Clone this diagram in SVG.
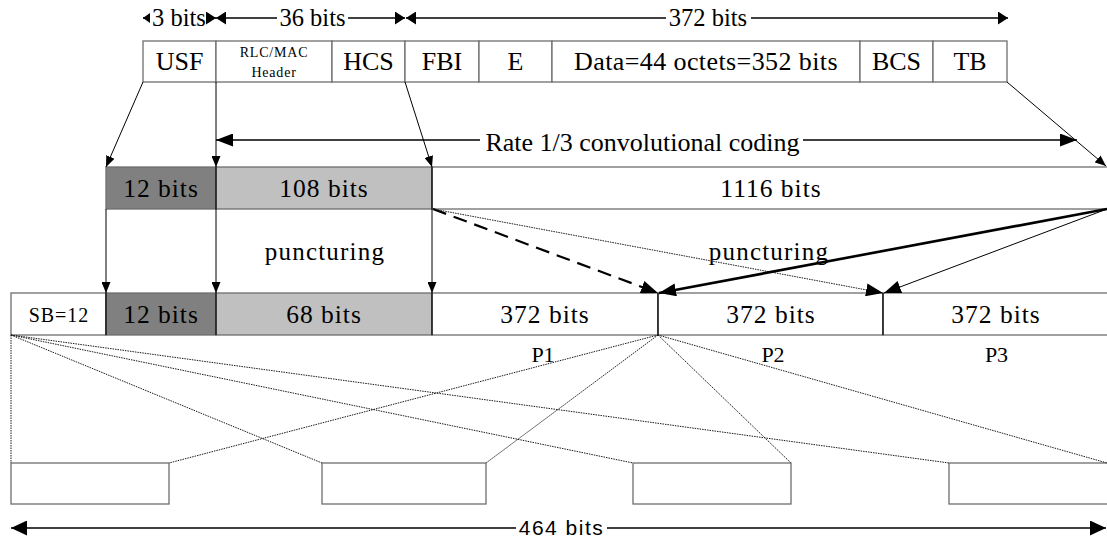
<svg xmlns="http://www.w3.org/2000/svg" width="1107" height="544" viewBox="0 0 1107 544">
  <style>
    .box { fill: #ffffff; stroke: #6e6e6e; stroke-width: 1.3; }
    .dark { fill: #808080; }
    .light { fill: #c0c0c0; }
    .div { stroke: #000000; stroke-width: 1.2; }
    .lbl { font-family: "Liberation Serif", "Times New Roman", serif; fill: #000000; text-anchor: middle; }
    .big { font-size: 26px; }
    .dim { font-size: 24.5px; }
    .cell { font-size: 25.5px; letter-spacing: 1px; }
    .small { font-size: 14px; letter-spacing: 0.8px; }
    .sb { font-size: 20px; letter-spacing: 1px; }
    .punct { font-size: 25px; letter-spacing: 1.2px; }
    .plab { font-size: 22px; }
    .sans { font-family: "Liberation Sans", Arial, sans-serif; font-size: 21px; letter-spacing: 1.5px; fill: #000000; text-anchor: middle; }
    .wire { stroke: #000000; stroke-width: 1; fill: none; }
    .thick { stroke: #000000; stroke-width: 2.6; fill: none; }
    .dash { stroke: #000000; stroke-width: 2.2; fill: none; stroke-dasharray: 14 8; }
    .dots { stroke: #1a1a1a; stroke-width: 1; fill: none; stroke-dasharray: 1.5 1; }
    .bar { stroke: #000000; stroke-width: 1.6; fill: none; }
  </style>
  <defs>
    <marker id="tipS" markerUnits="userSpaceOnUse" markerWidth="11" markerHeight="9" refX="11" refY="4.5" orient="auto">
      <path d="M0,0 L11,4.5 L0,9 z" fill="#000000"/>
    </marker>
    <marker id="tipL" markerUnits="userSpaceOnUse" markerWidth="17" markerHeight="13" refX="17" refY="6.5" orient="auto">
      <path d="M0,0 L17,6.5 L0,13 z" fill="#000000"/>
    </marker>
    <marker id="tipD" markerUnits="userSpaceOnUse" markerWidth="10" markerHeight="13" refX="10" refY="6.5" orient="auto">
      <path d="M0,0 L10,6.5 L0,13 z" fill="#000000"/>
    </marker>
    <marker id="tipT" markerUnits="userSpaceOnUse" markerWidth="7" markerHeight="10" refX="7" refY="5" orient="auto">
      <path d="M0,0 L7,5 L0,10 z" fill="#000000"/>
    </marker>
    <marker id="tipW" markerUnits="userSpaceOnUse" markerWidth="16" markerHeight="15" refX="16" refY="7.5" orient="auto">
      <path d="M0,0 L16,7.5 L0,15 z" fill="#000000"/>
    </marker>
  </defs>

  <rect width="1107" height="544" fill="#ffffff"/>

  <!-- size brackets above the radio block -->
  <g id="dimensions">
    <line class="bar" x1="149" y1="18" x2="143" y2="18" stroke-width="0.5" marker-end="url(#tipT)"/>
    <line class="bar" x1="206" y1="18" x2="216" y2="18" marker-end="url(#tipD)"/>
    <text class="lbl dim" x="179" y="26">3 bits</text>

    <line class="bar" x1="277" y1="18" x2="216" y2="18" marker-end="url(#tipD)"/>
    <line class="bar" x1="348" y1="18" x2="405" y2="18" marker-end="url(#tipD)"/>
    <text class="lbl dim" x="312.5" y="26">36 bits</text>

    <line class="bar" x1="666" y1="18" x2="406" y2="18" marker-end="url(#tipD)"/>
    <line class="bar" x1="751" y1="18" x2="1008" y2="18" marker-end="url(#tipD)"/>
    <text class="lbl dim" x="708" y="26">372 bits</text>
  </g>

  <!-- radio block fields -->
  <g id="field-usf">
    <rect class="box" x="143" y="41" width="73" height="41"/>
    <text class="lbl big" x="179.5" y="70">USF</text>
  </g>
  <g id="field-header">
    <rect class="box" x="216" y="41" width="116" height="41"/>
    <text class="lbl small" x="274" y="57">RLC/MAC</text>
    <text class="lbl small" x="274" y="77">Header</text>
  </g>
  <g id="field-hcs">
    <rect class="box" x="332" y="41" width="73" height="41"/>
    <text class="lbl big" x="368.5" y="70">HCS</text>
  </g>
  <g id="field-fbi">
    <rect class="box" x="405" y="41" width="74" height="41"/>
    <text class="lbl big" x="442" y="70">FBI</text>
  </g>
  <g id="field-e">
    <rect class="box" x="479" y="41" width="73" height="41"/>
    <text class="lbl big" x="515.5" y="70">E</text>
  </g>
  <g id="field-data">
    <rect class="box" x="552" y="41" width="308" height="41"/>
    <text class="lbl big" x="706" y="70" style="letter-spacing:0.4px">Data=44 octets=352 bits</text>
  </g>
  <g id="field-bcs">
    <rect class="box" x="860" y="41" width="73" height="41"/>
    <text class="lbl big" x="896.5" y="70">BCS</text>
  </g>
  <g id="field-tb">
    <rect class="box" x="933" y="41" width="74" height="41"/>
    <text class="lbl big" x="970" y="70">TB</text>
  </g>

  <!-- coded block -->
  <g id="coded-usf">
    <rect class="box dark" x="106" y="167" width="110" height="42"/>
    <text class="lbl cell" x="161" y="197">12 bits</text>
  </g>
  <g id="coded-header">
    <rect class="box light" x="216" y="167" width="216" height="42"/>
    <text class="lbl cell" x="324" y="197">108 bits</text>
  </g>
  <g id="coded-data">
    <rect class="box" x="432" y="167" width="677" height="42"/>
    <text class="lbl cell" x="771" y="197">1116 bits</text>
  </g>

  <!-- punctured block -->
  <g id="burst-sb">
    <rect class="box" x="11" y="293" width="95" height="42"/>
    <text class="lbl sb" x="59" y="322">SB=12</text>
  </g>
  <g id="burst-usf">
    <rect class="box dark" x="106" y="293" width="110" height="42"/>
    <text class="lbl cell" x="161" y="323">12 bits</text>
  </g>
  <g id="burst-header">
    <rect class="box light" x="216" y="293" width="216" height="42"/>
    <text class="lbl cell" x="324" y="323">68 bits</text>
  </g>
  <g id="burst-p1">
    <rect class="box" x="432" y="293" width="226" height="42"/>
    <text class="lbl cell" x="545" y="323">372 bits</text>
    <text class="lbl plab" x="543" y="362">P1</text>
  </g>
  <g id="burst-p2">
    <rect class="box" x="658" y="293" width="225" height="42"/>
    <text class="lbl cell" x="771" y="323">372 bits</text>
    <text class="lbl plab" x="773" y="362">P2</text>
  </g>
  <g id="burst-p3">
    <rect class="box" x="883" y="293" width="226" height="42"/>
    <text class="lbl cell" x="996" y="323">372 bits</text>
    <text class="lbl plab" x="996.5" y="362">P3</text>
  </g>
  <line class="div" x1="106" y1="293" x2="106" y2="335"/>
  <line class="div" x1="216" y1="293" x2="216" y2="335"/>
  <line class="div" x1="432" y1="293" x2="432" y2="335"/>
  <line class="div" x1="658" y1="293" x2="658" y2="335"/>
  <line class="div" x1="883" y1="293" x2="883" y2="335"/>
  <line class="div" x1="216" y1="167" x2="216" y2="209"/>
  <line class="div" x1="432" y1="167" x2="432" y2="209"/>

  <!-- four normal bursts -->
  <g id="burst-1"><rect class="box" x="11" y="463" width="158" height="41"/></g>
  <g id="burst-2"><rect class="box" x="322" y="463" width="164" height="41"/></g>
  <g id="burst-3"><rect class="box" x="633" y="463" width="158" height="41"/></g>
  <g id="burst-4"><rect class="box" x="949" y="463" width="160" height="41"/></g>

  <text class="lbl punct" x="325" y="260">puncturing</text>
  <text class="lbl punct" x="769" y="260">puncturing</text>

  <g id="connectors">
    <!-- field to coded block -->
    <line class="wire" x1="143" y1="82" x2="106" y2="167" marker-end="url(#tipS)"/>
    <line class="wire" x1="216" y1="82" x2="216" y2="167" marker-end="url(#tipS)"/>
    <line class="wire" x1="405" y1="82" x2="432" y2="167" marker-end="url(#tipS)"/>
    <line class="wire" x1="1007" y1="82" x2="1106" y2="166" marker-end="url(#tipS)"/>

    <!-- coding rate span -->
    <line class="bar" x1="480" y1="140" x2="216" y2="140" marker-end="url(#tipL)"/>
    <line class="bar" x1="803" y1="140" x2="1077" y2="140" marker-end="url(#tipL)"/>
    <text class="lbl big" x="642.5" y="151">Rate 1/3 convolutional coding</text>

    <!-- coded to punctured block -->
    <line class="wire" x1="106" y1="209" x2="106" y2="293" marker-end="url(#tipS)"/>
    <line class="wire" x1="216" y1="209" x2="216" y2="293" marker-end="url(#tipS)"/>
    <line class="wire" x1="432" y1="209" x2="432" y2="293" marker-end="url(#tipS)"/>

    <!-- puncturing of the data part -->
    <line class="dash" x1="433" y1="209" x2="658" y2="293" marker-end="url(#tipL)"/>
    <line class="dots" x1="433" y1="209" x2="883" y2="293" marker-end="url(#tipL)"/>
    <line class="thick" x1="1107" y1="209" x2="659" y2="293" marker-end="url(#tipL)"/>
    <line class="wire" x1="1107" y1="209" x2="884" y2="293" marker-end="url(#tipL)"/>

    <!-- mapping onto four bursts -->
    <line class="dots" x1="11" y1="335" x2="11" y2="463"/>
    <line class="dots" x1="11" y1="335" x2="322" y2="463"/>
    <line class="dots" x1="11" y1="335" x2="633" y2="463"/>
    <line class="dots" x1="11" y1="335" x2="949" y2="463"/>
    <line class="dots" x1="658" y1="335" x2="169" y2="463"/>
    <line class="dots" x1="658" y1="335" x2="486" y2="463"/>
    <line class="dots" x1="658" y1="335" x2="791" y2="463"/>
    <line class="dots" x1="658" y1="335" x2="1107" y2="463"/>

    <!-- total span -->
    <line class="bar" x1="516" y1="528" x2="11" y2="528" marker-end="url(#tipW)"/>
    <line class="bar" x1="607" y1="528" x2="1106" y2="528" marker-end="url(#tipW)"/>
    <text class="sans" x="561.5" y="535">464 bits</text>
  </g>
</svg>
